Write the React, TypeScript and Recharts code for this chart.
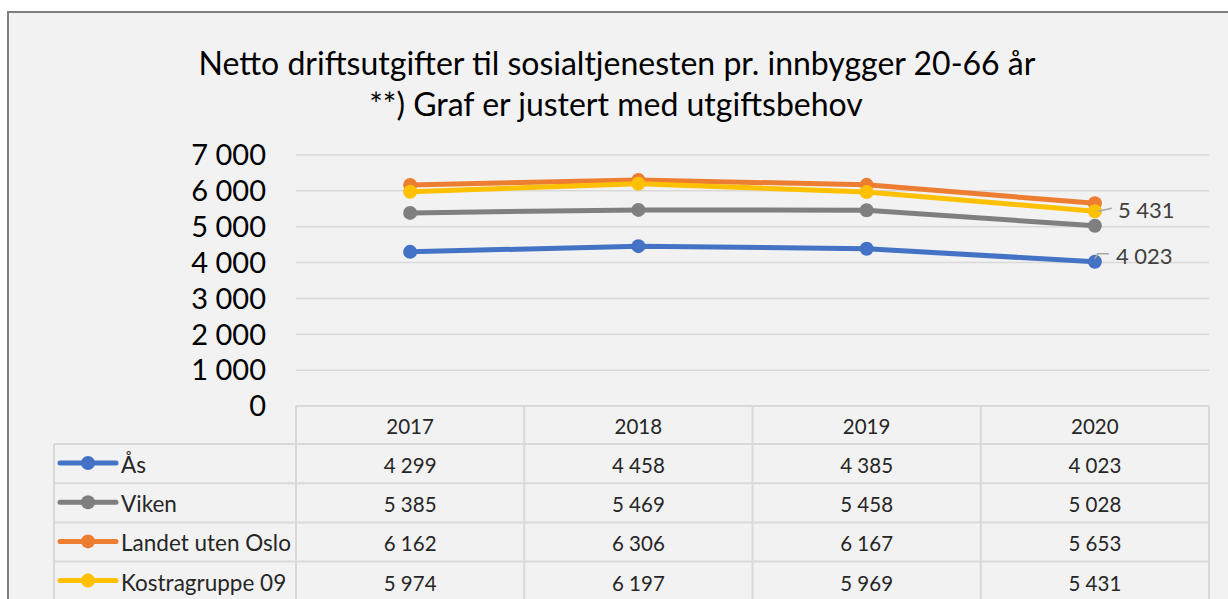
import { LineChart, Line, XAxis, YAxis, CartesianGrid, LabelList } from 'recharts'

const years = ['2017', '2018', '2019', '2020']
const aas = [4299, 4458, 4385, 4023]
const viken = [5385, 5469, 5458, 5028]
const landet = [6162, 6306, 6167, 5653]
const kostra = [5974, 6197, 5969, 5431]
const yTicks = [0, 1000, 2000, 3000, 4000, 5000, 6000, 7000]

const series = [
  { key: 'aas', name: 'Ås', color: '#4472c4', values: aas, label: 'below' },
  { key: 'viken', name: 'Viken', color: '#7f7f7f', values: viken, label: '' },
  { key: 'landet', name: 'Landet uten Oslo', color: '#ed7d31', values: landet, label: '' },
  { key: 'kostra', name: 'Kostragruppe 09', color: '#ffc000', values: kostra, label: 'side' },
]

const data = years.map((year, i) => {
  const row: Record<string, string | number> = { year }
  series.forEach(s => { row[s.key] = s.values[i] })
  return row
})

const FONT = 'Lato, "Open Sans", sans-serif'
const W = 1228
const H = 599
const HALF = 114.125 // half of a table column
const ROW_TOP = 38
const ROW_H = 39.2
const GRID = '#d9d9d9'

const fmt = (n: number) => String(n).replace(/\B(?=(\d{3})+(?!\d))/g, ' ')

function TableTick(props: any) {
  const { x, y, payload, index } = props
  const i = index as number
  const last = i === years.length - 1
  const rows = series.length
  const bottom = y + ROW_TOP + rows * ROW_H
  const rowLines = Array.from({ length: rows + 1 }, (_, r) => y + ROW_TOP + r * ROW_H)
  return (
    <g>
      <line x1={x - HALF} x2={x - HALF} y1={y} y2={bottom} stroke={GRID} strokeWidth={2} />
      {last && <line x1={x + HALF} x2={x + HALF} y1={y} y2={bottom} stroke={GRID} strokeWidth={2} />}
      {rowLines.map((ly, r) => (
        <line key={r} x1={x - HALF} x2={x + HALF} y1={ly} y2={ly} stroke={GRID} strokeWidth={2} />
      ))}
      <text x={x} y={y + 28} textAnchor="middle" fontSize={20.5} fill="#262626" fontFamily={FONT}>
        {payload.value}
      </text>
      {series.map((s, r) => (
        <text key={s.key} x={x} y={y + ROW_TOP + r * ROW_H + 29} textAnchor="middle" fontSize={20.5} fill="#262626" fontFamily={FONT}>
          {fmt(s.values[i])}
        </text>
      ))}
      {i === 0 && (
        <g>
          <line x1={54} x2={54} y1={y + ROW_TOP} y2={bottom} stroke={GRID} strokeWidth={2} />
          {rowLines.map((ly, r) => (
            <line key={r} x1={54} x2={x - HALF} y1={ly} y2={ly} stroke={GRID} strokeWidth={2} />
          ))}
          {series.map((s, r) => {
            const cy = y + ROW_TOP + r * ROW_H + 19
            return (
              <g key={s.key}>
                <line x1={60} x2={116} y1={cy} y2={cy} stroke={s.color} strokeWidth={5} strokeLinecap="round" />
                <circle cx={88} cy={cy} r={7} fill={s.color} />
                <text x={121} y={cy + 10} fontSize={22.5} fill="#262626" fontFamily={FONT}>{s.name}</text>
              </g>
            )
          })}
        </g>
      )}
    </g>
  )
}

function EndLabel(kind: string) {
  return (props: any) => {
    const { x, y, value, index } = props
    if (index !== years.length - 1) return null
    if (kind === 'side') {
      return (
        <g>
          <polyline points={`${x + 3},${y} ${x + 17},${y - 3}`} fill="none" stroke="#a6a6a6" strokeWidth={1.5} />
          <text x={x + 23} y={y + 7} fontSize={22} fill="#404040" fontFamily={FONT}>{fmt(value)}</text>
        </g>
      )
    }
    return (
      <g>
        <polyline points={`${x},${y - 3} ${x + 3},${y - 8} ${x + 14},${y - 8}`} fill="none" stroke="#a6a6a6" strokeWidth={1.5} />
        <text x={x + 21} y={y + 2} fontSize={22} fill="#404040" fontFamily={FONT}>{fmt(value)}</text>
      </g>
    )
  }
}

export default function App() {
  return (
    <div style={{ position: 'relative', width: W, height: H, overflow: 'hidden', background: '#fff' }}>
      <style>{'body{margin:0;overflow:hidden}'}</style>
      <div style={{ position: 'absolute', left: 7, top: 11, width: W - 7, height: H - 11, boxSizing: 'border-box', borderLeft: '2px solid #7f7f7f', borderTop: '2px solid #7f7f7f', background: '#f2f2f2' }} />
      <svg width={W} height={140} style={{ position: 'absolute', left: 0, top: 0 }}>
        <text x={617} y={75} textAnchor="middle" fontSize={32} fill="#000" fontFamily={FONT}>
          Netto driftsutgifter til sosialtjenesten pr. innbygger 20-66 år
        </text>
        <text x={616} y={116} textAnchor="middle" fontSize={32} fill="#000" fontFamily={FONT}>
          **) Graf er justert med utgiftsbehov
        </text>
      </svg>
      <div style={{ position: 'absolute', left: 0, top: 0 }}>
        <LineChart width={W} height={H} data={data} margin={{ top: 155, right: 19, bottom: 0, left: 0 }}>
          <CartesianGrid vertical={false} stroke={GRID} strokeWidth={1.5} />
          <XAxis
            dataKey="year"
            height={193}
            padding={{ left: HALF, right: HALF }}
            tickLine={false}
            tickSize={0}
            tickMargin={0}
            axisLine={{ stroke: GRID, strokeWidth: 2 }}
            interval={0}
            tick={<TableTick />}
          />
          <YAxis
            width={296}
            domain={[0, 7000]}
            ticks={yTicks}
            interval={0}
            tickFormatter={fmt}
            axisLine={false}
            tickLine={false}
            tickSize={0}
            tickMargin={30}
            tick={{ fontSize: 29, fill: '#000', fontFamily: FONT }}
          />
          {series.map(s => (
            <Line
              key={s.key}
              dataKey={s.key}
              name={s.name}
              stroke={s.color}
              strokeWidth={5}
              dot={{ r: 7, fill: s.color, stroke: s.color, strokeWidth: 0 }}
              activeDot={false}
              isAnimationActive={false}
            >
              {s.label && <LabelList dataKey={s.key} content={EndLabel(s.label)} />}
            </Line>
          ))}
        </LineChart>
      </div>
    </div>
  )
}
